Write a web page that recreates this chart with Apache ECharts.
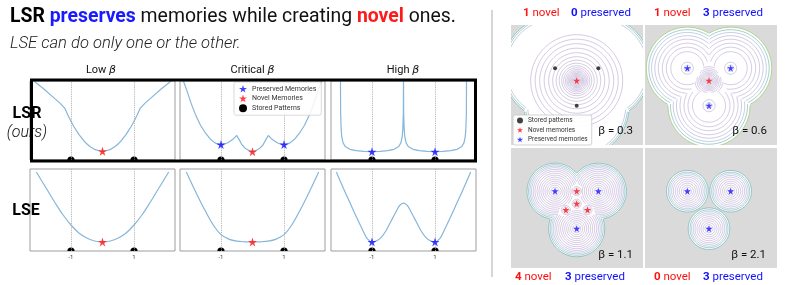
<!DOCTYPE html>
<html><head><meta charset="utf-8">
<script src="https://cdn.jsdelivr.net/npm/echarts@6/dist/echarts.min.js"></script>
<style>html,body{margin:0;padding:0;background:#fff}#c{width:793px;height:285px}</style>
</head><body><div id="c"></div>
<script>
// ---------------- DATA ----------------
const columnLabels = ['Low', 'Critical', 'High'];
const rowLabels = ['LSR', 'LSE'];
const storedX = [-1, 1];
const xTicks = [-1, 1];

// energy curves (x, normalised energy 0..1 inside each panel)
const lsrLow = [[-2.2,1.01],[-2.1,0.975],[-1.85,0.895],[-1.55,0.79],[-1.35,0.72],[-1.2,0.657],[-1.1,0.57],[-1.0,0.49],[-0.9,0.418],[-0.75,0.324],[-0.6,0.247],[-0.5,0.205],[-0.4,0.171],[-0.25,0.134],[-0.1,0.114],[0,0.11],[0.1,0.114],[0.25,0.134],[0.4,0.171],[0.5,0.205],[0.6,0.247],[0.75,0.324],[0.9,0.418],[1.0,0.49],[1.1,0.57],[1.2,0.657],[1.35,0.72],[1.55,0.79],[1.85,0.895],[2.1,0.975],[2.2,1.01]];
const lsrCritical = [[-2.25,1.06],[-2.1,0.9],[-1.95,0.72],[-1.8,0.565],[-1.65,0.44],[-1.5,0.345],[-1.35,0.27],[-1.2,0.22],[-1.1,0.2],[-1.0,0.195],[-0.9,0.2],[-0.8,0.215],[-0.7,0.24],[-0.6,0.27],[-0.5,0.31],[-0.42,0.255],[-0.33,0.19],[-0.22,0.145],[-0.1,0.118],[0,0.108],[0.1,0.118],[0.22,0.145],[0.33,0.19],[0.42,0.255],[0.5,0.31],[0.6,0.27],[0.7,0.24],[0.8,0.215],[0.9,0.2],[1.0,0.195],[1.1,0.2],[1.2,0.22],[1.35,0.27],[1.5,0.345],[1.65,0.44],[1.8,0.565],[1.95,0.72],[2.1,0.9],[2.25,1.06]];
const lsrHigh = [[-2.0,1.05],[-1.995,0.6],[-1.98,0.4],[-1.96,0.3],[-1.92,0.22],[-1.85,0.17],[-1.7,0.135],[-1.5,0.118],[-1.25,0.108],[-1.0,0.105],[-0.75,0.108],[-0.5,0.118],[-0.3,0.135],[-0.15,0.17],[-0.08,0.22],[-0.04,0.3],[-0.02,0.4],[-0.005,0.6],[0,1.05],[0.005,0.6],[0.02,0.4],[0.04,0.3],[0.08,0.22],[0.15,0.17],[0.3,0.135],[0.5,0.118],[0.75,0.108],[1.0,0.105],[1.25,0.108],[1.5,0.118],[1.7,0.135],[1.85,0.17],[1.92,0.22],[1.96,0.3],[1.98,0.4],[1.995,0.6],[2.0,1.05]];
const lseLow = [[-2.1,0.963],[-1.75,0.744],[-1.5,0.585],[-1.25,0.439],[-1.0,0.317],[-0.75,0.22],[-0.5,0.159],[-0.25,0.122],[0,0.11],[0.25,0.122],[0.5,0.159],[0.75,0.22],[1.0,0.317],[1.25,0.439],[1.5,0.585],[1.75,0.744],[2.1,0.963]];
const lseCritical = [[-2.1,0.963],[-1.9,0.8],[-1.7,0.64],[-1.5,0.49],[-1.25,0.32],[-1.0,0.2],[-0.75,0.145],[-0.5,0.12],[-0.25,0.112],[0,0.11],[0.25,0.112],[0.5,0.12],[0.75,0.145],[1.0,0.2],[1.25,0.32],[1.5,0.49],[1.7,0.64],[1.9,0.8],[2.1,0.963]];
const lseHigh = [[-2.13,0.963],[-1.9,0.76],[-1.7,0.59],[-1.5,0.42],[-1.3,0.26],[-1.15,0.15],[-1.0,0.11],[-0.85,0.125],[-0.7,0.17],[-0.55,0.25],[-0.4,0.36],[-0.25,0.47],[-0.12,0.555],[0,0.585],[0.12,0.555],[0.25,0.47],[0.4,0.36],[0.55,0.25],[0.7,0.17],[0.85,0.125],[1.0,0.11],[1.15,0.15],[1.3,0.26],[1.5,0.42],[1.7,0.59],[1.9,0.76],[2.13,0.963]];

const lsrLowNovel = [[0,0.11]], lsrLowPreserved = [];
const lsrCriticalNovel = [[0,0.105]], lsrCriticalPreserved = [[-1,0.195],[1,0.195]];
const lsrHighNovel = [], lsrHighPreserved = [[-1,0.105],[1,0.105]];
const lseLowNovel = [[0,0.11]], lseLowPreserved = [];
const lseCriticalNovel = [[0,0.11]], lseCriticalPreserved = [];
const lseHighNovel = [], lseHighPreserved = [[-1,0.11],[1,0.11]];

// contour panels (units: distance of stored pattern from centroid)
const betas = ['0.3', '0.6', '1.1', '2.1'];
const novelCounts = [1, 1, 4, 0];
const preservedCounts = [0, 3, 3, 3];
const patterns = [[-0.866,0.5],[0.866,0.5],[0,-1]];
const novel03 = [[0,0]];
const novel06 = [[0,0]];
const novel11 = [[0,0],[0,0.5],[-0.433,-0.25],[0.433,-0.25]];
const novel21 = [];
const preserved03 = [];
const preserved06 = patterns;
const preserved11 = patterns;
const preserved21 = patterns;
const supportRadius = [2.1, 1.64, 1.12, 0.83];
const novelBasinWeight = [1, 0.9, 0.33, 1];
const novelBasinShared = [false, true, true, true];
const ringsNovel03 = [0.05,0.09,0.13,0.17,0.21,0.25,0.29,0.34,0.39,0.45,0.52,0.6,0.7,0.82,0.96,1.12,1.3,1.48,1.66,1.84];
const ringsPattern03 = [1.96,2.04,2.1];
const ringsNovel06 = [0.05,0.1,0.15,0.2,0.25,0.3,0.35,0.41,0.48,0.56];
const ringsPattern06 = [0.12,0.24,0.66,0.84,1.0,1.16,1.3,1.43,1.54,1.64];
const ringsNovel11 = [0.06,0.12,0.18];
const ringsPattern11 = [0.08,0.16,0.24,0.32,0.4,0.48,0.56,0.64,0.72,0.8,0.87,0.94,1.0,1.06,1.12];
const ringsNovel21 = [];
const ringsPattern21 = [0.08,0.16,0.24,0.32,0.4,0.48,0.56,0.63,0.7,0.76,0.83];

// ---------------- CHART ----------------
const STAR = 'path://M50,2 L61.8,38.2 L99.9,38.2 L69.1,60.6 L80.9,96.9 L50,74.5 L19.1,96.9 L30.9,60.6 L0.1,38.2 L38.2,38.2 Z';
const RED = '#ff1010', BLUE = '#1010ff';
const FONT = 'Roboto';

const grid = [], xAxis = [], yAxis = [], series = [];

const linePanels = [
  {curve: lsrLow, novel: lsrLowNovel, pres: lsrLowPreserved, row: 0, col: 0, smooth: false},
  {curve: lsrCritical, novel: lsrCriticalNovel, pres: lsrCriticalPreserved, row: 0, col: 1, smooth: false},
  {curve: lsrHigh, novel: lsrHighNovel, pres: lsrHighPreserved, row: 0, col: 2, smooth: false},
  {curve: lseLow, novel: lseLowNovel, pres: lseLowPreserved, row: 1, col: 0, smooth: 0.35},
  {curve: lseCritical, novel: lseCriticalNovel, pres: lseCriticalPreserved, row: 1, col: 1, smooth: 0.35},
  {curve: lseHigh, novel: lseHighNovel, pres: lseHighPreserved, row: 1, col: 2, smooth: 0.35}
];
const colLefts = [30, 180, 331];
const rowTops = [81, 169], rowHeights = [79, 82];

linePanels.forEach((p, i) => {
  grid.push({left: colLefts[p.col], top: rowTops[p.row], width: 145, height: rowHeights[p.row],
    show: true, borderColor: '#9d9d9d', borderWidth: 1, backgroundColor: '#fff'});
  xAxis.push({gridIndex: i, type: 'value', min: -2.3, max: 2.3,
    axisLine: {show: false}, axisTick: {show: false}, splitLine: {show: false},
    axisLabel: p.row === 1 ? {show: true, customValues: xTicks, fontSize: 6, color: '#444', margin: 3, fontFamily: FONT} : {show: false}});
  yAxis.push({gridIndex: i, type: 'value', min: 0, max: 1, show: false});
  series.push({type: 'line', name: 'energy', xAxisIndex: i, yAxisIndex: i, data: p.curve,
    showSymbol: false, symbol: 'none', smooth: p.smooth, clip: true, z: 2,
    lineStyle: {color: '#86b6d9', width: 1.2},
    markLine: {silent: true, symbol: ['none', 'none'], label: {show: false},
      lineStyle: {type: 'dotted', color: '#a8a8a8', width: 0.9},
      data: storedX.map(v => ({xAxis: v}))}});
  series.push({type: 'custom', name: 'Stored Patterns', xAxisIndex: i, yAxisIndex: i, clip: true, z: 4,
    itemStyle: {color: '#000'}, data: storedX.map(v => [v, 0]),
    renderItem: (params, api) => {
      const c = api.coord([api.value(0), api.value(1)]);
      return {type: 'circle', shape: {cx: c[0], cy: c[1], r: 3.6}, style: {fill: '#000'}};
    }});
  series.push({type: 'scatter', name: 'Novel Memories', xAxisIndex: i, yAxisIndex: i,
    data: p.novel, symbol: STAR, symbolSize: 9, z: 5, itemStyle: {color: RED}});
  series.push({type: 'scatter', name: 'Preserved Memories', xAxisIndex: i, yAxisIndex: i,
    data: p.pres, symbol: STAR, symbolSize: 9, z: 5, itemStyle: {color: BLUE}});
});

// contour panels
const cPanels = [
  {novel: novel03, pres: preserved03, rn: ringsNovel03, rp: ringsPattern03, left: 511, top: 25, cx: 576.7, cy: 80.7, showStored: true},
  {novel: novel06, pres: preserved06, rn: ringsNovel06, rp: ringsPattern06, left: 645, top: 25, cx: 709, cy: 80.7, showStored: false, green: true},
  {novel: novel11, pres: preserved11, rn: ringsNovel11, rp: ringsPattern11, left: 511, top: 148, cx: 576.7, cy: 203.7, showStored: false},
  {novel: novel21, pres: preserved21, rn: ringsNovel21, rp: ringsPattern21, left: 645, top: 148, cx: 709, cy: 203.7, showStored: false}
];
const UNIT = 25, CW = 132, CH = 120;
const palette = ['rgba(126,92,168,0.55)', 'rgba(100,118,178,0.6)', 'rgba(70,158,160,0.85)', 'rgba(140,196,78,0.95)'];

function toneFor(idx, len, green) {
  if (idx === len - 1) return green ? 3 : 2;
  if (idx === len - 2) return 2;
  if (idx >= len - 4) return 1;
  return 0;
}

function ringRenderer(wells) {
  return function (params, api) {
    const r = api.value(2), tone = api.value(3), wi = api.value(4);
    const w = wells[wi];
    const N = 160;
    const segs = []; let cur = [];
    for (let k = 0; k <= N; k++) {
      const a = 2 * Math.PI * k / N;
      const qx = w.x + r * Math.cos(a), qy = w.y + r * Math.sin(a);
      let ok = true;
      for (let j = 0; j < wells.length; j++) {
        if (j === wi || wells[j].g !== w.g) continue;
        const d = Math.hypot(qx - wells[j].x, qy - wells[j].y);
        if (d / wells[j].s < r / w.s - 1e-6) { ok = false; break; }
      }
      if (ok) cur.push(api.coord([qx, qy]));
      else { if (cur.length > 1) segs.push(cur); cur = []; }
    }
    if (cur.length > 1) segs.push(cur);
    return {type: 'group', children: segs.map(pts => ({type: 'polyline', shape: {points: pts},
      style: {stroke: palette[tone], lineWidth: 0.6, fill: null}}))};
  };
}

cPanels.forEach((p, k) => {
  const gi = linePanels.length + k;
  grid.push({left: p.left, top: p.top, width: CW, height: CH, show: true, backgroundColor: '#dadada', borderWidth: 0});
  xAxis.push({gridIndex: gi, type: 'value', show: false,
    min: -(p.cx - p.left) / UNIT, max: (p.left + CW - p.cx) / UNIT});
  yAxis.push({gridIndex: gi, type: 'value', show: false,
    min: -(p.top + CH - p.cy) / UNIT, max: (p.cy - p.top) / UNIT});
  const wells = patterns.map(([x, y]) => ({x, y, s: 1, g: 0}))
    .concat(p.novel.map(([x, y]) => ({x, y, s: novelBasinWeight[k], g: novelBasinShared[k] ? 0 : 1})));
  const rings = [];
  patterns.forEach(([x, y], i) => p.rp.forEach((r, ri) => rings.push([x, y, r, toneFor(ri, p.rp.length, p.green), i])));
  p.novel.forEach(([x, y], n) => p.rn.forEach(r => rings.push([x, y, r, 0, patterns.length + n])));
  series.push({type: 'custom', name: 'support', xAxisIndex: gi, yAxisIndex: gi, clip: true, z: 1, silent: true,
    data: patterns.map(([x, y]) => [x, y, supportRadius[k]]),
    renderItem: (params, api) => {
      const c = api.coord([api.value(0), api.value(1)]);
      const rr = api.size([api.value(2), 0])[0];
      return {type: 'circle', shape: {cx: c[0], cy: c[1], r: rr}, style: {fill: '#fff'}};
    }});
  series.push({type: 'custom', name: 'contours', xAxisIndex: gi, yAxisIndex: gi, clip: true, z: 2, silent: true,
    data: rings, renderItem: ringRenderer(wells)});
  if (p.showStored) series.push({type: 'scatter', name: 'Stored patterns', xAxisIndex: gi, yAxisIndex: gi,
    data: patterns, symbol: 'circle', symbolSize: 4, z: 5, itemStyle: {color: '#111'}});
  series.push({type: 'scatter', name: 'Novel memories', xAxisIndex: gi, yAxisIndex: gi,
    data: p.novel, symbol: STAR, symbolSize: 7, z: 5, itemStyle: {color: RED}});
  series.push({type: 'scatter', name: 'Preserved memories', xAxisIndex: gi, yAxisIndex: gi,
    data: p.pres, symbol: STAR, symbolSize: 7, z: 5, itemStyle: {color: BLUE}});
});

// ---------------- TEXT / DECORATION ----------------
function txt(x, y, text, font, fill, align, rich) {
  const style = {text, font, fill, align: align || 'left', verticalAlign: 'middle',
    textAlign: align || 'left', textVerticalAlign: 'middle'};
  if (rich) style.rich = rich;
  return {type: 'text', x, y, z: 50, style};
}
const TS = 19.4;
const graphic = [];
graphic.push(txt(10, 17, '{b|LSR} {p|preserves} {n|memories while creating} {r|novel} {n|ones.}', TS + 'px ' + FONT, '#111', 'left', {
  b: {fontWeight: 'bold', fontSize: TS, fontFamily: FONT, fill: '#000'},
  p: {fontWeight: 'bold', fontSize: TS, fontFamily: FONT, fill: '#1a1aff'},
  n: {fontWeight: 'normal', fontSize: TS, fontFamily: FONT, fill: '#111'},
  r: {fontWeight: 'bold', fontSize: TS, fontFamily: FONT, fill: '#ff1a1a'}
}));
graphic.push(txt(10, 44, 'LSE can do only one or the other.', 'italic 300 16.6px ' + FONT, '#222'));
const headerX = [101, 252.5, 403];
columnLabels.forEach((c, i) => graphic.push(txt(headerX[i], 70, '{a|' + c + ' }{g|β}', '11px ' + FONT, '#111', 'center', {
  a: {fontSize: 11, fontFamily: FONT, fill: '#111'},
  g: {fontSize: 11, fontFamily: 'DejaVu Sans', fontStyle: 'italic', fill: '#111'}
})));
graphic.push(txt(27, 114, rowLabels[0], 'bold 16px ' + FONT, '#000', 'center'));
graphic.push(txt(27, 132.5, '(ours)', 'italic 300 16px ' + FONT, '#111', 'center'));
graphic.push(txt(26, 210.5, rowLabels[1], 'bold 16px ' + FONT, '#000', 'center'));

const countPos = [[523, 571, 13], [654, 703, 13], [515, 565, 277], [654, 703, 277]];
const betaPos = [[633, 131.5], [767, 131], [633, 255], [766, 255]];
betas.forEach((b, k) => {
  const [xr, xb, y] = countPos[k];
  graphic.push(txt(xr, y, '{n|' + novelCounts[k] + '}{w| novel}', '11.5px ' + FONT, RED, 'left', {
    n: {fontWeight: 'bold', fontSize: 11.5, fontFamily: FONT, fill: RED},
    w: {fontSize: 11.5, fontFamily: FONT, fill: RED}}));
  graphic.push(txt(xb, y, '{n|' + preservedCounts[k] + '}{w| preserved}', '11.5px ' + FONT, BLUE, 'left', {
    n: {fontWeight: 'bold', fontSize: 11.5, fontFamily: FONT, fill: BLUE},
    w: {fontSize: 11.5, fontFamily: FONT, fill: BLUE}}));
  graphic.push(txt(betaPos[k][0], betaPos[k][1], 'β = ' + b, '11.5px ' + FONT, '#111', 'right'));
});
graphic.push({type: 'rect', z: 100, shape: {x: 31.5, y: 80, width: 444, height: 81},
  style: {fill: 'transparent', stroke: '#000', lineWidth: 3}});
graphic.push({type: 'line', z: 0, shape: {x1: 492, y1: 10, x2: 492, y2: 277},
  style: {stroke: '#c8c8c8', lineWidth: 1.5}});

const option = {
  animation: false,
  backgroundColor: '#fff',
  textStyle: {fontFamily: FONT},
  grid, xAxis, yAxis, series, graphic,
  legend: [
    {data: [{name: 'Preserved Memories'}, {name: 'Novel Memories'}, {name: 'Stored Patterns', icon: 'circle', itemStyle: {color: '#000'}}],
      orient: 'vertical', left: 234, top: 82,
      itemWidth: 8, itemHeight: 8, itemGap: 2, padding: [3, 5, 3, 5], selectedMode: false, z: 10,
      backgroundColor: 'rgba(255,255,255,0.85)', borderColor: '#d0d0d0', borderWidth: 0.8, borderRadius: 2,
      textStyle: {fontSize: 7, color: '#333', fontFamily: FONT}},
    {data: ['Stored patterns', 'Novel memories', 'Preserved memories'], orient: 'vertical', left: 513, top: 115,
      itemWidth: 6, itemHeight: 6, itemGap: 2.5, padding: [2, 4, 2, 4], selectedMode: false, z: 10,
      backgroundColor: 'rgba(255,255,255,0.9)', borderColor: '#c8c8c8', borderWidth: 0.8, borderRadius: 2,
      textStyle: {fontSize: 6.5, color: '#333', fontFamily: FONT}}
  ]
};
const chart = echarts.init(document.getElementById('c'));
chart.setOption(option);
</script></body></html>
